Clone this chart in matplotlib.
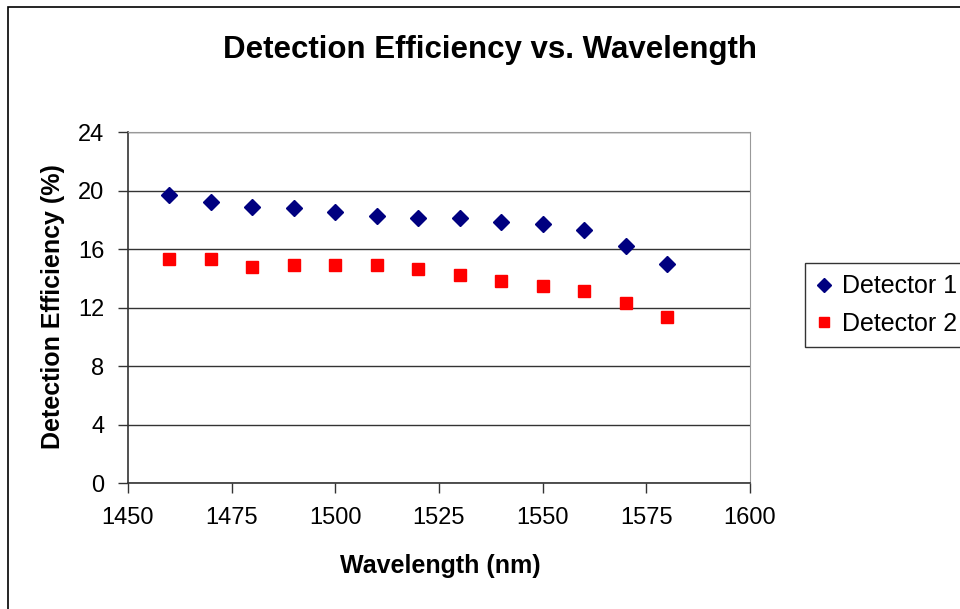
import matplotlib.pyplot as plt
from matplotlib.patches import Rectangle

plt.rcParams['font.family'] = ['Liberation Sans', 'DejaVu Sans']

wavelength = [1460, 1470, 1480, 1490, 1500, 1510, 1520, 1530, 1540, 1550, 1560, 1570, 1580]
detector1 = [19.7, 19.2, 18.9, 18.8, 18.5, 18.25, 18.1, 18.1, 17.85, 17.7, 17.3, 16.2, 15.0]
detector2 = [15.3, 15.3, 14.75, 14.9, 14.9, 14.9, 14.6, 14.2, 13.8, 13.5, 13.1, 12.3, 11.35]
x_ticks = [1450, 1475, 1500, 1525, 1550, 1575, 1600]
y_ticks = [0, 4, 8, 12, 16, 20, 24]

W, H = 960, 609
fig = plt.figure(figsize=(W / 100, H / 100), dpi=100)
ax = fig.add_axes([128 / W, 1 - 483 / H, (750 - 128) / W, (483 - 132) / H])

# outer chart border (runs off the right and bottom edges)
fig.patches.append(Rectangle((8 / W, -0.05), 1.0, 1 - 7 / H + 0.05, transform=fig.transFigure,
                             fill=False, edgecolor='black', linewidth=1.2))

ax.plot(wavelength, detector1, linestyle='none', marker='D', markersize=8.5,
        color='#000080', label='Detector 1')
ax.plot(wavelength, detector2, linestyle='none', marker='s', markersize=8.5,
        color='#ff0000', label='Detector 2')

ax.set_xlim(1450, 1600)
ax.set_ylim(0, 24)
ax.set_xticks(x_ticks)
ax.set_yticks(y_ticks)
ax.tick_params(labelsize=17, direction='out', length=7, width=1, color='#333333')
ax.tick_params(axis='x', pad=10)
ax.tick_params(axis='y', pad=10)
ax.grid(axis='y', color='#333333', linewidth=1)
ax.set_axisbelow(True)

for side in ['top', 'right']:
    ax.spines[side].set_color('#999999')
for side in ['left', 'bottom']:
    ax.spines[side].set_color('#333333')
    ax.spines[side].set_linewidth(1.2)

ax.set_xlabel('Wavelength (nm)', fontsize=18, fontweight='bold', va='center')
ax.xaxis.set_label_coords(0.5016, (483 - 566) / 351)
ax.set_ylabel('Detection Efficiency (%)', fontsize=18, fontweight='bold', va='center')
ax.yaxis.set_label_coords((53 - 128) / 622, 0.504)
fig.text(490 / W, 1 - 50 / H, 'Detection Efficiency vs. Wavelength', fontsize=22.5,
         fontweight='bold', ha='center', va='center')

leg = fig.legend(loc='upper left', bbox_to_anchor=(805 / W, 1 - 263 / H), fontsize=18,
                 frameon=True, fancybox=False, handlelength=0.6, handletextpad=0.45,
                 borderpad=0.45, labelspacing=0.55, markerscale=0.8, borderaxespad=0)
leg.get_frame().set_edgecolor('black')
leg.get_frame().set_linewidth(1)

fig.savefig('out.png', dpi=100)
